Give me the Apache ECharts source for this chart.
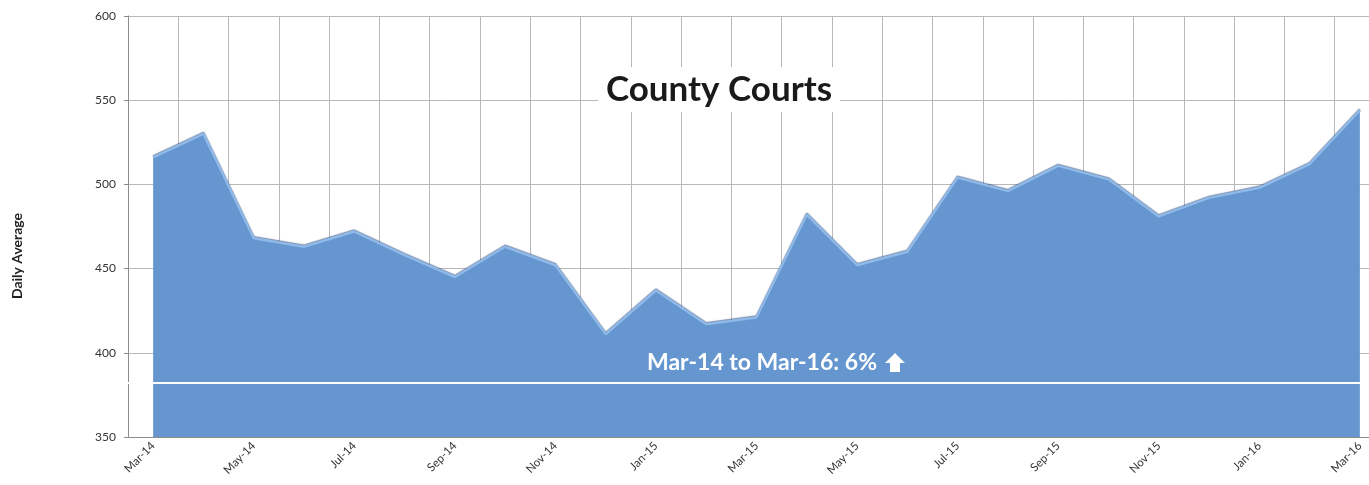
<!DOCTYPE html>
<html>
<head>
<meta charset="utf-8">
<script src="https://cdn.jsdelivr.net/npm/echarts@6/dist/echarts.min.js"></script>
<style>
  html, body { margin: 0; padding: 0; background: #fff; overflow: hidden; }
  /* wider than the window: the plot runs past the right edge, as in the source */
  #chart { width: 1385px; height: 485px; }
</style>
</head>
<body>
<div id="chart"></div>
<script>
const months = ['Mar-14', 'Apr-14', 'May-14', 'Jun-14', 'Jul-14', 'Aug-14', 'Sep-14', 'Oct-14', 'Nov-14',
  'Dec-14', 'Jan-15', 'Feb-15', 'Mar-15', 'Apr-15', 'May-15', 'Jun-15', 'Jul-15', 'Aug-15', 'Sep-15',
  'Oct-15', 'Nov-15', 'Dec-15', 'Jan-16', 'Feb-16', 'Mar-16']
const dailyAverage = [516, 530, 468, 463, 472, 458, 445, 463, 452, 411, 437, 417, 421, 482, 452,
  460, 504, 496, 511, 503, 481, 492, 498, 512, 544]
const baseline = 382.5
const yTicks = { min: 350, max: 600, step: 50 }

const font = 'Lato, "Open Sans", sans-serif'
const chart = echarts.init(document.getElementById('chart'))

chart.setOption({
  animation: false,
  title: {
    text: 'County Courts',
    left: 711,
    top: 67,
    textAlign: 'center',
    backgroundColor: '#fff',
    padding: [5, 8],
    textStyle: { fontFamily: font, fontSize: 35, fontWeight: 'bold', color: '#1a1a1a' }
  },
  grid: { left: 128, top: 16, right: 0, bottom: 48 },
  xAxis: {
    type: 'category',
    data: months,
    boundaryGap: true,
    axisLine: { lineStyle: { color: '#8c8c8c' } },
    axisTick: { interval: 0, length: 5, lineStyle: { color: '#8c8c8c' } },
    axisLabel: { interval: 1, rotate: 45, fontFamily: font, fontSize: 11.5, color: '#333', margin: 7 },
    splitLine: { show: true, interval: 0, lineStyle: { color: '#b8b8b8' } }
  },
  yAxis: {
    type: 'value',
    min: yTicks.min,
    max: yTicks.max,
    interval: yTicks.step,
    axisLine: { show: true, lineStyle: { color: '#8c8c8c' } },
    axisTick: { show: true, length: 4, lineStyle: { color: '#8c8c8c' } },
    axisLabel: { fontFamily: font, fontSize: 12, color: '#333', margin: 12 },
    splitLine: { lineStyle: { color: '#b8b8b8' } }
  },
  series: [{
    type: 'line',
    data: dailyAverage,
    symbol: 'none',
    lineStyle: { color: '#8fb9e8', width: 2.5, shadowColor: 'rgba(40,70,120,0.6)', shadowBlur: 1, shadowOffsetY: -1 },
    areaStyle: { color: '#6596cf', opacity: 1 },
    z: 3,
    markLine: {
      silent: true,
      symbol: 'none',
      label: { show: false },
      lineStyle: { color: '#fff', width: 2, type: 'solid' },
      data: [{ yAxis: baseline }]
    }
  }],
  graphic: [
    {
      type: 'text',
      rotation: Math.PI / 2,
      x: 17, y: 256,
      style: {
        text: 'Daily Average',
        align: 'center', verticalAlign: 'middle',
        font: 'bold 14px ' + font,
        fill: '#222'
      }
    },
    {
      type: 'text',
      z: 10,
      style: {
        text: 'Mar-14 to Mar-16: 6%',
        x: 762, y: 363,
        align: 'center', verticalAlign: 'middle',
        font: 'bold 23px ' + font,
        fill: '#fff'
      }
    },
    {
      type: 'polygon',
      z: 10,
      shape: { points: [[895, 353], [905, 363], [900, 363], [900, 372], [890, 372], [890, 363], [885, 363]] },
      style: { fill: '#fff' }
    }
  ]
})
</script>
</body>
</html>
